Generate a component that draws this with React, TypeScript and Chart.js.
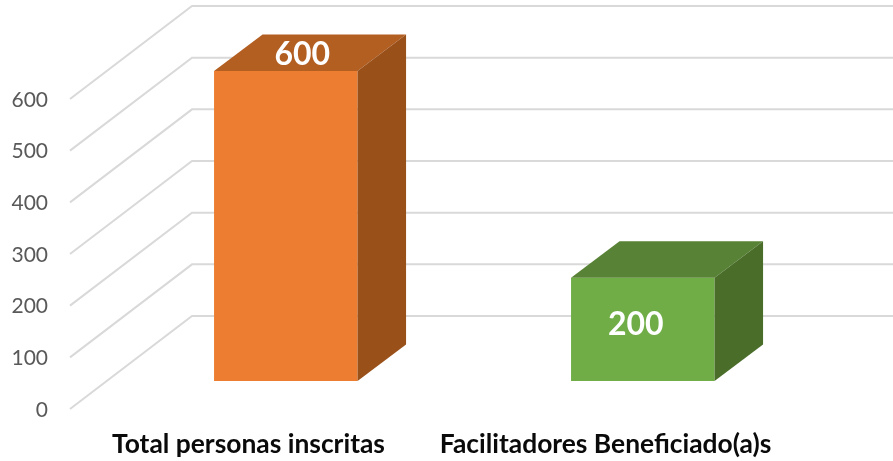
import React, { useEffect, useRef } from "react";
import { Chart, registerables } from "chart.js";

Chart.register(...registerables);

const categories = ["Total personas inscritas", "Facilitadores Beneficiado(a)s"];
const values = [600, 200];
const yTickStep = 100;
const yMax = 600;

const frontColors = ["#ED7D31", "#70AD47"];
const topColors = ["#B35F22", "#588235"];
const sideColors = ["#9A5019", "#4A6E2A"];

const GRID_COLOR = "#D9D9D9";
const WALL = { dx: 122, dy: -93 };
const BAR_SHIFT = { dx: 37.3, dy: -28 };
const BAR_DEPTH = { dx: 48.5, dy: -36.5 };
const LABEL_SHIFT = [
  { dx: 16.5, dy: -16.5 },
  { dx: -7, dy: 47.5 },
];

const wallGrid = {
  id: "wallGrid",
  beforeDatasetsDraw(chart: any) {
    const { ctx, scales, chartArea } = chart;
    const y = scales.y;
    ctx.save();
    ctx.strokeStyle = GRID_COLOR;
    ctx.lineWidth = 2;
    y.ticks.forEach((_: any, i: number) => {
      const py = y.getPixelForTick(i);
      ctx.beginPath();
      ctx.moveTo(chartArea.left, py);
      ctx.lineTo(chartArea.left + WALL.dx, py + WALL.dy);
      ctx.lineTo(chartArea.right + WALL.dx, py + WALL.dy);
      ctx.stroke();
    });
    ctx.restore();
  },
};

const box3d = {
  id: "box3d",
  beforeDatasetDraw(chart: any) {
    const { ctx } = chart;
    ctx.save();
    ctx.translate(BAR_SHIFT.dx, BAR_SHIFT.dy);
  },
  afterDatasetDraw(chart: any, args: any) {
    const { ctx } = chart;
    const bars = args.meta.data;
    const { dx, dy } = BAR_DEPTH;
    bars.forEach((bar: any, i: number) => {
      const { x, y, base, width } = bar.getProps(["x", "y", "base", "width"], true);
      const l = x - width / 2;
      const r = x + width / 2;
      ctx.fillStyle = topColors[i];
      ctx.beginPath();
      ctx.moveTo(l, y);
      ctx.lineTo(l + dx, y + dy);
      ctx.lineTo(r + dx, y + dy);
      ctx.lineTo(r, y);
      ctx.closePath();
      ctx.fill();
      ctx.fillStyle = sideColors[i];
      ctx.beginPath();
      ctx.moveTo(r, y);
      ctx.lineTo(r + dx, y + dy);
      ctx.lineTo(r + dx, base + dy);
      ctx.lineTo(r, base);
      ctx.closePath();
      ctx.fill();
      ctx.fillStyle = "#FFFFFF";
      ctx.font = "bold 32px Lato";
      ctx.textAlign = "center";
      ctx.textBaseline = "middle";
      ctx.fillText(String(values[i]), x + LABEL_SHIFT[i].dx, y + LABEL_SHIFT[i].dy);
    });
    ctx.restore();
  },
};

export default function App() {
  const ref = useRef<HTMLCanvasElement | null>(null);

  useEffect(() => {
    const chart = new Chart(ref.current as HTMLCanvasElement, {
      type: "bar",
      data: {
        labels: categories,
        datasets: [
          {
            data: values,
            backgroundColor: frontColors,
            borderWidth: 0,
            barPercentage: 0.402,
            categoryPercentage: 1,
            clip: false,
          } as any,
        ],
      },
      plugins: [wallGrid, box3d],
      options: {
        responsive: false,
        animation: false,
        layout: { padding: { left: 0, right: 109, top: 99, bottom: 0 } },
        plugins: { legend: { display: false }, tooltip: { enabled: false } },
        scales: {
          x: {
            grid: { display: false, drawTicks: false },
            border: { display: false },
            ticks: {
              color: "#0A0A0A",
              font: { family: "Lato", size: 26.4, weight: "bold" },
              padding: 20,
              maxRotation: 0,
              autoSkip: false,
            },
            afterFit(scale: any) {
              scale.height = 52;
            },
          },
          y: {
            min: 0,
            max: yMax,
            grid: { display: false, drawTicks: false },
            border: { display: false },
            ticks: {
              stepSize: yTickStep,
              color: "#595959",
              font: { family: "Lato", size: 21 },
              padding: 22,
              labelOffset: 1,
            },
            afterFit(scale: any) {
              scale.width = 70;
            },
          },
        },
      },
    } as any);
    return () => chart.destroy();
  }, []);

  return (
    <div style={{ position: "fixed", left: 0, top: 0, width: 893, height: 461, background: "#fff" }}>
      <canvas ref={ref} width={893} height={461} style={{ display: "block" }} />
    </div>
  );
}
